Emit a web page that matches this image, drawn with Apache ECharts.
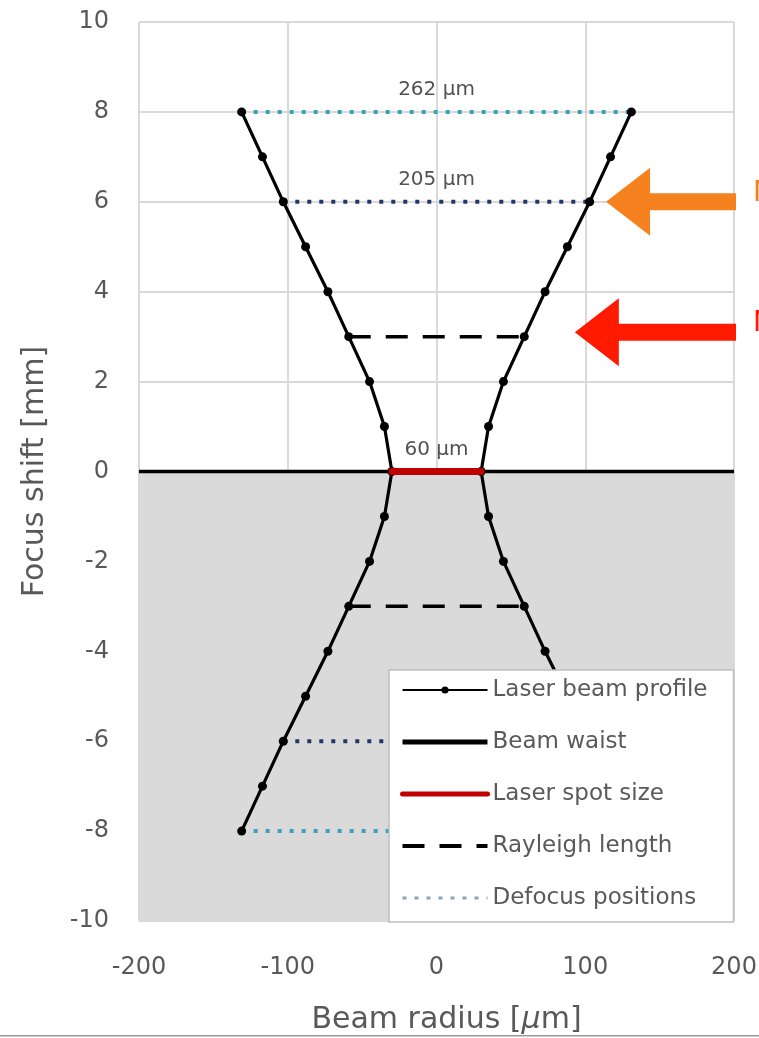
<!DOCTYPE html>
<html><head><meta charset="utf-8">
<script src="https://cdn.jsdelivr.net/npm/echarts@6/dist/echarts.min.js"></script>
<style>html,body{margin:0;padding:0;background:#fff}#c{width:759px;height:1038px}</style>
</head><body><div id="c"></div>
<script>
// ---- data ----
const focusShift = [8, 7, 6, 5, 4, 3, 2, 1, 0, -1, -2, -3, -4, -5, -6, -7, -8];
const beamRadius = [131, 117, 103, 88, 73, 59, 45, 35, 30, 35, 45, 59, 73, 88, 103, 117, 131];
const spotRadius = 30;
const rayleighShifts = [3, -3];
const defocusShifts = [8, 6, -6, -8];
const defocusColors = ['#3d9fb8', '#1f3a68', '#1f3a68', '#3d9fb8'];
const annotationY = [8, 6, 0];
const annotationText = ['262 µm', '205 µm', '60 µm'];
const xTicks = [-200, -100, 0, 100, 200];
const yTicks = [-10, -8, -6, -4, -2, 0, 2, 4, 6, 8, 10];
const legendNames = ['Laser beam profile', 'Beam waist', 'Laser spot size', 'Rayleigh length', 'Defocus positions'];
const arrowTargets = [[114, 6], [93, 3.1]];
const arrowColors = ['#f5821f', '#ff1a00'];

const radiusAt = s => beamRadius[focusShift.indexOf(s)];
const xMin = xTicks[0], xMax = xTicks[xTicks.length - 1];
const yMin = yTicks[0], yMax = yTicks[yTicks.length - 1];

const chart = echarts.init(document.getElementById('c'));
const FONT = 'DejaVu Sans';
const series = [];

// shaded region (below focus)
series.push({
  type: 'line', data: [], z: 1, silent: true,
  markArea: { silent: true, itemStyle: { color: '#dadada' },
    data: [[{ coord: [xMin, 0] }, { coord: [xMax, yMin] }]] }
});
// defocus dotted lines
defocusShifts.forEach((s, i) => {
  const r = radiusAt(s);
  series.push({ name: legendNames[4], type: 'line', z: 3, symbol: 'none',
    lineStyle: { color: defocusColors[i], width: 4, type: [4, 8] },
    itemStyle: { color: defocusColors[i] },
    data: [[-r, s], [r, s]] });
});
// Rayleigh dashed
rayleighShifts.forEach(s => {
  const r = radiusAt(s);
  series.push({ name: legendNames[3], type: 'line', z: 3, symbol: 'none',
    lineStyle: { color: '#000', width: 3.5, type: [22, 15] }, itemStyle: { color: '#000' },
    data: [[-r, s], [r, s]] });
});
// beam waist
series.push({ name: legendNames[1], type: 'line', z: 4, symbol: 'none',
  lineStyle: { color: '#000', width: 3.5 }, itemStyle: { color: '#000' },
  data: [[xMin, 0], [xMax, 0]] });
// profile branches
[-1, 1].forEach(sign => {
  series.push({ name: legendNames[0], type: 'line', z: 5, symbol: 'circle', symbolSize: 9,
    lineStyle: { color: '#000', width: 3.2 }, itemStyle: { color: '#000' },
    data: focusShift.map((s, i) => [sign * beamRadius[i], s]) });
});
// spot size
series.push({ name: legendNames[2], type: 'line', z: 6, symbol: 'none',
  lineStyle: { color: '#c00000', width: 7, cap: 'round' }, itemStyle: { color: '#c00000' },
  data: [[-spotRadius, 0], [spotRadius, 0]] });
// annotations
series.push({ type: 'scatter', z: 7, symbolSize: 0, silent: true,
  data: annotationY.map((y, i) => ({ value: [0, y], label: { formatter: annotationText[i] } })),
  label: { show: true, position: 'top', distance: 12, fontFamily: FONT, fontSize: 20, color: '#262626' } });

chart.setOption({
  animation: false,
  backgroundColor: '#fff',
  grid: { left: 139, right: 25, top: 22, bottom: 117, outerBoundsMode: 'none', containLabel: false },
  xAxis: {
    type: 'value', min: xMin, max: xMax, interval: 100,
    name: 'Beam radius [{i|µ}m]', nameLocation: 'middle', nameGap: 84,
    nameTextStyle: { fontFamily: FONT, fontSize: 30, color: '#595959', padding: [0, 0, 0, 20],
      rich: { i: { fontFamily: FONT, fontSize: 30, fontStyle: 'italic', color: '#595959' } } },
    axisLine: { show: false }, axisTick: { show: false },
    axisLabel: { margin: 35, fontFamily: FONT, fontSize: 24, color: '#595959' },
    splitLine: { show: true, lineStyle: { color: '#d9d9d9', width: 2 } }
  },
  yAxis: {
    type: 'value', min: yMin, max: yMax, interval: 2,
    name: 'Focus shift [mm]', nameLocation: 'middle', nameGap: 89,
    nameTextStyle: { fontFamily: FONT, fontSize: 30, color: '#595959' },
    axisLine: { show: false }, axisTick: { show: false },
    axisLabel: { margin: 30, fontFamily: FONT, fontSize: 24, color: '#595959' },
    splitLine: { show: true, lineStyle: { color: '#d9d9d9', width: 2 } }
  },
  legend: {
    z: 20, orient: 'vertical', left: 389, top: 670,
    backgroundColor: '#fff', borderColor: '#bfbfbf', borderWidth: 1.5, borderRadius: 0,
    padding: [8, 26, 12, 11], itemWidth: 85, itemHeight: 9, itemGap: 28,
    textStyle: { fontFamily: FONT, fontSize: 23, color: '#595959', lineHeight: 24 },
    data: [
      { name: legendNames[0], lineStyle: { width: 2 } },
      { name: legendNames[1], lineStyle: { width: 5 }, itemStyle: { opacity: 0 } },
      { name: legendNames[2], lineStyle: { width: 5 }, itemStyle: { opacity: 0 } },
      { name: legendNames[3], lineStyle: { width: 4 }, itemStyle: { opacity: 0 } },
      { name: legendNames[4], lineStyle: { width: 3, color: '#8fa4b0' }, itemStyle: { opacity: 0 } }
    ]
  },
  series
});

// arrows and right-edge annotation letters
const g = [];
arrowTargets.forEach((t, i) => {
  const [px, py] = chart.convertToPixel({ gridIndex: 0 }, t);
  const headL = 44, headH = 34, shaftH = 8.5, endX = 736;
  g.push({ type: 'polygon', silent: true, z: 10,
    shape: { points: [[px, py], [px + headL, py - headH], [px + headL, py - shaftH], [endX, py - shaftH],
      [endX, py + shaftH], [px + headL, py + shaftH], [px + headL, py + headH]] },
    style: { fill: arrowColors[i] } });
  g.push({ type: 'text', silent: true, z: 10, left: 753, top: py - 22,
    style: { text: 'N', fontFamily: FONT, fontSize: 28, fill: arrowColors[i] } });
});
g.push({ type: 'rect', silent: true, shape: { x: 0, y: 1035, width: 759, height: 1.5 }, style: { fill: '#999' } });
chart.setOption({ graphic: g });
</script></body></html>
